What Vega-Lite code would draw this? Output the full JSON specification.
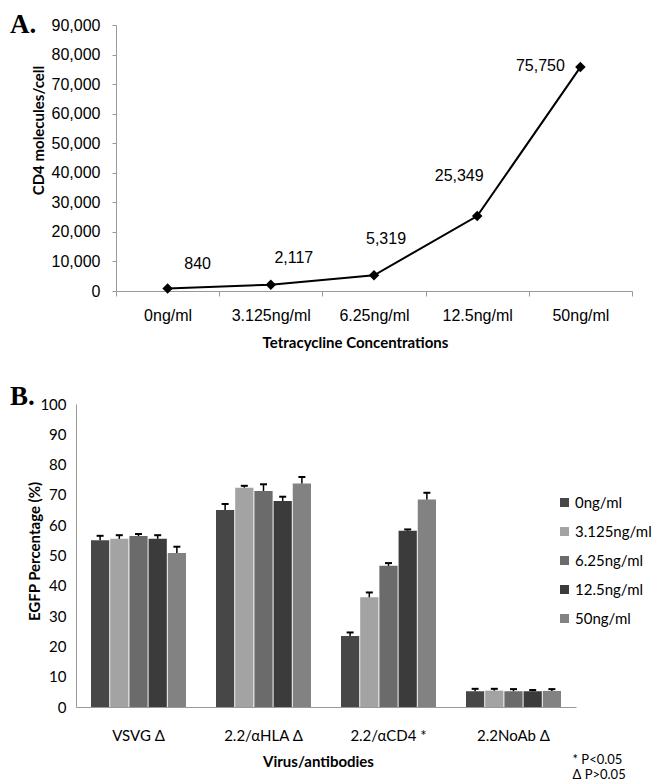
{
  "$schema": "https://vega.github.io/schema/vega-lite/v6.json",
  "background": "white",
  "padding": {"left": 10, "top": 11, "right": 0, "bottom": 0},
  "spacing": 33,
  "resolve": {"legend": {"color": "independent"}, "scale": {"color": "independent"}},
  "config": {"view": {"stroke": null}, "font": "Lato"},
  "vconcat": [
    {
      "width": 556,
      "height": 266,
      "title": {"text": "A.", "anchor": "start", "frame": "group", "dx": -66, "dy": 22, "font": "Liberation Serif", "fontSize": 27, "fontWeight": "bold", "color": "black", "offset": 0},
      "data": {"values": [
        {"conc": "0ng/ml", "molecules": 840},
        {"conc": "3.125ng/ml", "molecules": 2117},
        {"conc": "6.25ng/ml", "molecules": 5319},
        {"conc": "12.5ng/ml", "molecules": 25349},
        {"conc": "50ng/ml", "molecules": 75750}
      ]},
      "encoding": {
        "x": {"field": "conc", "type": "nominal", "sort": null,
          "scale": {"paddingInner": 0, "paddingOuter": 0, "range": [40, 556]},
          "axis": {"title": "Tetracycline Concentrations", "labelAngle": 0, "labelFont": "Liberation Sans", "labelFontSize": 16, "labelColor": "black", "labelPadding": 11, "tickSize": 5, "tickBand": "extent", "domainColor": "#999999", "tickColor": "#999999", "titleFont": "Lato", "titleFontSize": 15, "titleFontWeight": "bold", "titleColor": "black", "titlePadding": 12, "titleX": 279}},
        "y": {"field": "molecules", "type": "quantitative",
          "scale": {"domain": [0, 90000]},
          "axis": {"title": "CD4 molecules/cell", "offset": -40, "values": [0, 10000, 20000, 30000, 40000, 50000, 60000, 70000, 80000, 90000], "format": ",.0f", "grid": false, "labelOverlap": false, "labelFont": "Liberation Sans", "labelFontSize": 16, "labelColor": "black", "labelPadding": 12, "tickSize": 4, "domainColor": "#999999", "tickColor": "#999999", "titleFont": "Lato", "titleFontSize": 15, "titleFontWeight": "bold", "titleColor": "black", "titleX": -73, "titleY": 105, "titleBaseline": "alphabetic", "titleAngle": -90}}
      },
      "layer": [
        {"mark": {"type": "line", "color": "black", "strokeWidth": 2}},
        {"mark": {"type": "point", "shape": "diamond", "filled": true, "color": "black", "size": 110, "opacity": 1}},
        {"transform": [{"filter": "datum.conc == '0ng/ml'"}], "mark": {"type": "text", "dx": 30, "dy": -25, "font": "Liberation Sans", "fontSize": 16, "color": "black", "baseline": "middle"}, "encoding": {"text": {"field": "molecules", "type": "quantitative", "format": ",.0f"}}},
        {"transform": [{"filter": "datum.conc == '3.125ng/ml'"}], "mark": {"type": "text", "dx": 23, "dy": -27, "font": "Liberation Sans", "fontSize": 16, "color": "black", "baseline": "middle"}, "encoding": {"text": {"field": "molecules", "type": "quantitative", "format": ",.0f"}}},
        {"transform": [{"filter": "datum.conc == '6.25ng/ml'"}], "mark": {"type": "text", "dx": 12, "dy": -36, "font": "Liberation Sans", "fontSize": 16, "color": "black", "baseline": "middle"}, "encoding": {"text": {"field": "molecules", "type": "quantitative", "format": ",.0f"}}},
        {"transform": [{"filter": "datum.conc == '12.5ng/ml'"}], "mark": {"type": "text", "dx": -18, "dy": -40, "font": "Liberation Sans", "fontSize": 16, "color": "black", "baseline": "middle"}, "encoding": {"text": {"field": "molecules", "type": "quantitative", "format": ",.0f"}}},
        {"transform": [{"filter": "datum.conc == '50ng/ml'"}], "mark": {"type": "text", "dx": -40, "dy": -1, "font": "Liberation Sans", "fontSize": 16, "color": "black", "baseline": "middle"}, "encoding": {"text": {"field": "molecules", "type": "quantitative", "format": ",.0f"}}}
      ]
    },
    {
      "width": 500,
      "height": 303,
      "title": {"text": "B.", "anchor": "start", "frame": "group", "dx": -66, "dy": 14, "font": "Liberation Serif", "fontSize": 27, "fontWeight": "bold", "color": "black", "offset": 0},
      "data": {"values": [
        {"virus": "VSVG Δ", "conc": "0ng/ml", "value": 55.0, "hi": 56.5},
        {"virus": "VSVG Δ", "conc": "3.125ng/ml", "value": 55.5, "hi": 56.7},
        {"virus": "VSVG Δ", "conc": "6.25ng/ml", "value": 56.4, "hi": 57.1},
        {"virus": "VSVG Δ", "conc": "12.5ng/ml", "value": 55.5, "hi": 56.7},
        {"virus": "VSVG Δ", "conc": "50ng/ml", "value": 50.8, "hi": 52.9},
        {"virus": "2.2/αHLA Δ", "conc": "0ng/ml", "value": 65.0, "hi": 67.0},
        {"virus": "2.2/αHLA Δ", "conc": "3.125ng/ml", "value": 72.4, "hi": 73.0},
        {"virus": "2.2/αHLA Δ", "conc": "6.25ng/ml", "value": 71.3, "hi": 73.5},
        {"virus": "2.2/αHLA Δ", "conc": "12.5ng/ml", "value": 68.0, "hi": 69.4},
        {"virus": "2.2/αHLA Δ", "conc": "50ng/ml", "value": 73.8, "hi": 75.9},
        {"virus": "2.2/αCD4 *", "conc": "0ng/ml", "value": 23.4, "hi": 24.6},
        {"virus": "2.2/αCD4 *", "conc": "3.125ng/ml", "value": 36.2, "hi": 37.8},
        {"virus": "2.2/αCD4 *", "conc": "6.25ng/ml", "value": 46.6, "hi": 47.5},
        {"virus": "2.2/αCD4 *", "conc": "12.5ng/ml", "value": 58.2, "hi": 58.6},
        {"virus": "2.2/αCD4 *", "conc": "50ng/ml", "value": 68.5, "hi": 70.7},
        {"virus": "2.2NoAb Δ", "conc": "0ng/ml", "value": 5.2, "hi": 6.0},
        {"virus": "2.2NoAb Δ", "conc": "3.125ng/ml", "value": 5.4, "hi": 6.0},
        {"virus": "2.2NoAb Δ", "conc": "6.25ng/ml", "value": 5.2, "hi": 5.9},
        {"virus": "2.2NoAb Δ", "conc": "12.5ng/ml", "value": 5.2, "hi": 5.6},
        {"virus": "2.2NoAb Δ", "conc": "50ng/ml", "value": 5.3, "hi": 5.9}
      ]},
      "encoding": {
        "x": {"field": "virus", "type": "nominal", "sort": null,
          "scale": {"paddingInner": 0.24, "paddingOuter": 0.12},
          "axis": {"title": "Virus/antibodies", "labelAngle": 0, "labelFont": "Lato", "labelFontSize": 15, "labelColor": "black", "labelPadding": 21, "ticks": false, "domainColor": "#999999", "titleFont": "Lato", "titleFontSize": 15, "titleFontWeight": "bold", "titleColor": "black", "titlePadding": 11, "titleX": 242}}
      },
      "layer": [
        {
          "mark": {"type": "bar"},
          "encoding": {
            "xOffset": {"field": "conc", "type": "nominal", "sort": ["0ng/ml", "3.125ng/ml", "6.25ng/ml", "12.5ng/ml", "50ng/ml"], "scale": {"paddingInner": 0.05}},
            "y": {"field": "value", "type": "quantitative", "scale": {"domain": [0, 100], "nice": false},
              "axis": {"title": "EGFP Percentage (%)", "values": [0, 10, 20, 30, 40, 50, 60, 70, 80, 90, 100], "tickCount": 11, "grid": false, "ticks": false, "labelOverlap": false, "labelFont": "Lato", "labelFontSize": 15, "labelColor": "black", "labelPadding": 10, "domainColor": "#999999", "titleFont": "Lato", "titleFontSize": 15, "titleFontWeight": "bold", "titleColor": "black", "titleX": -37, "titleY": 147, "titleBaseline": "alphabetic", "titleAngle": -90}},
            "color": {"field": "conc", "type": "nominal",
              "scale": {"domain": ["0ng/ml", "3.125ng/ml", "6.25ng/ml", "12.5ng/ml", "50ng/ml"], "range": ["#474747", "#a3a3a3", "#6b6b6b", "#3b3b3b", "#828282"]},
              "legend": {"title": null, "orient": "none", "legendX": 481, "legendY": 91, "symbolType": "square", "symbolSize": 81, "symbolStrokeWidth": 0, "labelFont": "Lato", "labelFontSize": 15, "labelColor": "black", "rowPadding": 13, "labelOffset": 3, "labelLimit": 200}}
          }
        },
        {
          "mark": {"type": "rule", "color": "black", "strokeWidth": 1.5},
          "encoding": {
            "xOffset": {"field": "conc", "type": "nominal", "sort": ["0ng/ml", "3.125ng/ml", "6.25ng/ml", "12.5ng/ml", "50ng/ml"]},
            "y": {"field": "value", "type": "quantitative",
              "axis": {"title": "EGFP Percentage (%)", "values": [0, 10, 20, 30, 40, 50, 60, 70, 80, 90, 100], "tickCount": 11, "grid": false, "ticks": false, "labelOverlap": false, "labelFont": "Lato", "labelFontSize": 15, "labelColor": "black", "labelPadding": 10, "domainColor": "#999999", "titleFont": "Lato", "titleFontSize": 15, "titleFontWeight": "bold", "titleColor": "black", "titleX": -37, "titleY": 147, "titleBaseline": "alphabetic", "titleAngle": -90}},
            "y2": {"field": "hi"}
          }
        },
        {
          "mark": {"type": "tick", "color": "black", "thickness": 2, "size": 7, "opacity": 1},
          "encoding": {
            "xOffset": {"field": "conc", "type": "nominal", "sort": ["0ng/ml", "3.125ng/ml", "6.25ng/ml", "12.5ng/ml", "50ng/ml"]},
            "y": {"field": "hi", "type": "quantitative",
              "axis": {"title": "EGFP Percentage (%)", "values": [0, 10, 20, 30, 40, 50, 60, 70, 80, 90, 100], "tickCount": 11, "grid": false, "ticks": false, "labelOverlap": false, "labelFont": "Lato", "labelFontSize": 15, "labelColor": "black", "labelPadding": 10, "domainColor": "#999999", "titleFont": "Lato", "titleFontSize": 15, "titleFontWeight": "bold", "titleColor": "black", "titleX": -37, "titleY": 147, "titleBaseline": "alphabetic", "titleAngle": -90}}
          }
        },
        {
          "data": {"values": [{"note": "* P<0.05\nΔ P>0.05"}]},
          "mark": {"type": "text", "align": "left", "baseline": "top", "dx": 59, "dy": 47, "font": "Lato", "fontSize": 13, "color": "black", "lineBreak": "\n", "lineHeight": 15},
          "encoding": {
            "x": {"datum": "2.2NoAb Δ", "type": "nominal"},
            "y": {"datum": 0, "type": "quantitative",
              "axis": {"title": "EGFP Percentage (%)", "values": [0, 10, 20, 30, 40, 50, 60, 70, 80, 90, 100], "tickCount": 11, "grid": false, "ticks": false, "labelOverlap": false, "labelFont": "Lato", "labelFontSize": 15, "labelColor": "black", "labelPadding": 10, "domainColor": "#999999", "titleFont": "Lato", "titleFontSize": 15, "titleFontWeight": "bold", "titleColor": "black", "titleX": -37, "titleY": 147, "titleBaseline": "alphabetic", "titleAngle": -90}},
            "text": {"field": "note", "type": "nominal"}
          }
        }
      ]
    }
  ]
}
